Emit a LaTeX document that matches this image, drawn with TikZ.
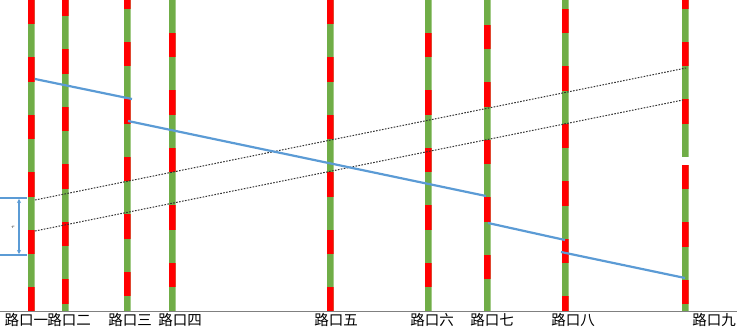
\documentclass[tikz,border=0pt]{standalone}
\usepackage{fontspec}
\newfontfamily\cjk{Noto Sans CJK SC}
\usepackage{tikz}
\usetikzlibrary{positioning,arrows.meta}
\usepackage{xcolor}
\definecolor{sigred}{RGB}{255,0,0}
\definecolor{siggreen}{RGB}{112,173,71}
\definecolor{route}{RGB}{91,155,213}
\definecolor{axisgray}{RGB}{128,128,128}

% one signal bar: x, phase of red, top, bottom
\newcommand{\signalbar}[4]{%
  \begin{scope}
    \clip (#1-3.5,#3) rectangle (#1+3.5,#4);
    \fill[siggreen] (#1-3.5,#3) rectangle (#1+3.5,#4);
    \foreach \k in {-1,...,6}
      \fill[sigred] (#1-3.5,{#2+57.5*\k}) rectangle (#1+3.5,{#2+57.5*\k+24.5});
  \end{scope}}

\begin{document}
\begin{tikzpicture}[
    x=1pt, y=-1pt,
    junction/.style={anchor=base, inner sep=0pt, font=\cjk\fontsize{14.5}{14.5}\selectfont},
    band/.style={dash pattern=on 1.6pt off 1.4pt, line width=1pt, black!80},
    trip/.style={route, line width=2.2pt},
    arrow/.style={{Stealth[length=4pt,width=4pt]}-{Stealth[length=4pt,width=4pt]}, route, line width=1.1pt}
]
    \useasboundingbox (0,0) rectangle (737,328);

    % Signal bars
    \signalbar{31}{0}{0}{312}
    \signalbar{65}{49.5}{0}{312}
    \signalbar{127}{42}{0}{312}
    \signalbar{172}{33}{0}{312}
    \signalbar{330}{0}{0}{312}
    \signalbar{428}{33}{0}{312}
    \signalbar{487}{25}{0}{312}
    \signalbar{565}{9}{0}{312}
    \signalbar{685}{42}{0}{157}
    \signalbar{685}{50}{165}{312}

    % Axis
    \coordinate (axl) at (0,312);
    \coordinate (axr) at (737,312);
    \draw[axisgray, line width=1pt] (axl) -- (axr);

    % Junction labels
    \node[junction] (j1) at (26.5,325.5) {路口一};
    \node[junction] (j2) at (69,325.5) {路口二};
    \node[junction] (j3) at (130,325.5) {路口三};
    \node[junction] (j4) at (180,325.5) {路口四};
    \node[junction] (j5) at (336,325.5) {路口五};
    \node[junction] (j6) at (432,325.5) {路口六};
    \node[junction] (j7) at (492,325.5) {路口七};
    \node[junction] (j8) at (573,325.5) {路口八};
    \node[junction] (j9) at (714,325.5) {路口九};

    % Green band (dotted)
    \coordinate (bandAs) at (35,200);
    \coordinate (bandAe) at (686,68);
    \coordinate (bandBs) at (35,231);
    \coordinate (bandBe) at (683,100);
    \draw[band] (bandAs) -- (bandAe);
    \draw[band] (bandBs) -- (bandBe);

    % Vehicle trajectory
    \coordinate (p1) at (35,79);
    \coordinate (p2) at (132,99);
    \coordinate (p3) at (128,121);
    \coordinate (p4) at (486,196);
    \coordinate (p5) at (488,223);
    \coordinate (p6) at (565,240);
    \coordinate (p7) at (561,252);
    \coordinate (p8) at (685,278);
    \draw[trip] (p1) -- (p2);
    \draw[trip] (p3) -- (p4);
    \draw[trip] (p5) -- (p6);
    \draw[trip] (p7) -- (p8);

    % Band width
    \coordinate (wt0) at (0,198);
    \coordinate (wt1) at (27,198);
    \coordinate (wb0) at (0,255);
    \coordinate (wb1) at (27,255);
    \draw[route, line width=1.2pt] (wt0) -- (wt1);
    \draw[route, line width=1.2pt] (wb0) -- (wb1);
    \coordinate (wa) at (19,199);
    \coordinate (wb) at (19,254);
    \draw[arrow] (wa) -- (wb);
    \node[font=\tiny, inner sep=0pt] (tau) at (13,227) {$\tau$};
\end{tikzpicture}
\end{document}
